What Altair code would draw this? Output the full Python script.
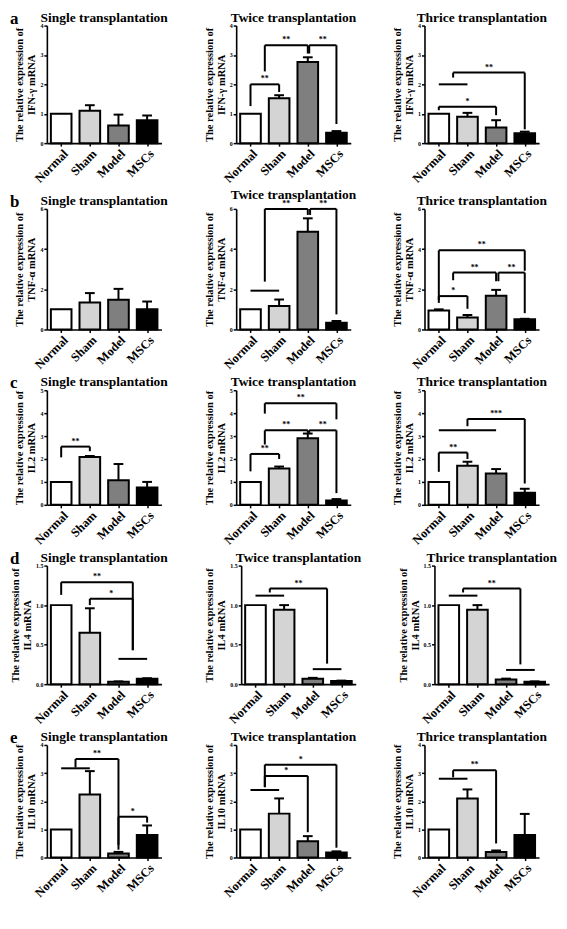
import json
import altair as alt
import pandas as pd

CATS = ["Normal", "Sham", "Model", "MSCs"]
COLORS = ["#ffffff", "#d4d4d4", "#7f7f7f", "#000000"]
TITLES = ["Single transplantation", "Twice transplantation", "Thrice transplantation"]
GENES = ["IFN-γ mRNA", "TNF-α mRNA", "IL2 mRNA", "IL4 mRNA", "IL10 mRNA"]
LETTERS = ["a", "b", "c", "d", "e"]
YMAX = [4, 6, 5, 1.5, 4]
YTICKS = [[0, 1, 2, 3, 4], [0, 2, 4, 6], [0, 1, 2, 3, 4, 5], [0, 0.5, 1.0, 1.5], [0, 1, 2, 3, 4]]
YFMT = ["d", "d", "d", ".1f", "d"]
ROW_H = [118, 121, 115, 119, 113]
PANEL_W = 115

# means and upper error-bar ends, per row (gene) and column (single/twice/thrice)
IFN_MEAN = [[1.0, 1.10, 0.60, 0.78], [1.0, 1.53, 2.76, 0.35], [1.0, 0.90, 0.53, 0.34]]
IFN_TOP = [[1.0, 1.29, 0.97, 0.94], [1.0, 1.63, 2.92, 0.41], [1.0, 1.03, 0.78, 0.39]]
TNF_MEAN = [[1.0, 1.34, 1.48, 1.00], [1.0, 1.17, 4.86, 0.33], [0.94, 0.60, 1.68, 0.51]]
TNF_TOP = [[1.0, 1.81, 2.02, 1.39], [1.0, 1.49, 5.53, 0.42], [1.0, 0.72, 1.97, 0.53]]
IL2_MEAN = [[1.0, 2.09, 1.07, 0.76], [1.0, 1.58, 2.90, 0.19], [1.0, 1.70, 1.37, 0.53]]
IL2_TOP = [[1.0, 2.13, 1.78, 1.00], [1.0, 1.67, 3.11, 0.25], [1.0, 1.88, 1.56, 0.70]]
IL4_MEAN = [[1.0, 0.65, 0.03, 0.07], [1.0, 0.94, 0.07, 0.04], [1.0, 0.94, 0.06, 0.03]]
IL4_TOP = [[1.0, 0.96, 0.035, 0.075], [1.0, 1.00, 0.08, 0.045], [1.0, 1.00, 0.07, 0.035]]
IL10_MEAN = [[1.0, 2.24, 0.14, 0.80], [1.0, 1.56, 0.58, 0.18], [1.0, 2.10, 0.20, 0.80]]
IL10_TOP = [[1.0, 3.07, 0.20, 1.14], [1.0, 2.10, 0.76, 0.22], [1.0, 2.42, 0.25, 1.55]]
MEANS = [IFN_MEAN, TNF_MEAN, IL2_MEAN, IL4_MEAN, IL10_MEAN]
TOPS = [IFN_TOP, TNF_TOP, IL2_TOP, IL4_TOP, IL10_TOP]

# significance brackets: (x_left, x_right, top, left_drop_to, right_drop_to, label)
IFN_BR = [[],
          [(0, 1, 2.0, 1.26, 1.74, "**"), (0.5, 2, 3.33, 2.44, 3.05, "**"), (2.05, 3, 3.33, 3.05, 0.65, "**")],
          [(0, 1, 2.0, 2.0, 2.0, ""), (0.5, 3, 2.4, 2.23, 0.47, "**"), (0, 2, 1.24, 1.12, 0.95, "*")]]
TNF_BR = [[],
          [(0, 1, 1.93, 1.93, 1.93, ""), (0.5, 2, 6.0, 2.38, 5.7, "**"), (2.08, 3, 6.0, 5.7, 0.75, "**")],
          [(0, 1, 1.66, 1.32, 1.03, "*"), (0.5, 2, 2.83, 2.45, 2.4, "**"), (2.08, 3, 2.83, 2.4, 0.81, "**"),
           (0, 3, 3.94, 1.46, 2.92, "**")]]
IL2_BR = [[(0, 1, 2.54, 2.07, 2.34, "**")],
          [(0, 1, 2.22, 1.46, 2.0, "**"), (0.5, 2, 3.25, 2.63, 3.14, "**"), (2.05, 3, 3.25, 3.14, 0.51, "**"),
           (0.5, 3, 4.43, 3.98, 3.73, "**")],
          [(0, 2, 3.25, 3.25, 3.25, ""), (0, 1, 2.28, 1.44, 2.0, "**"), (1, 3, 3.75, 3.43, 0.93, "***")]]
IL4_BR = [[(2, 3, 0.32, 0.32, 0.32, ""), (0, 2.5, 1.29, 1.13, 0.43, "**"), (1, 2.5, 1.08, 1.0, 0.43, "*")],
          [(0, 1, 1.12, 1.12, 1.12, ""), (2, 3, 0.19, 0.19, 0.19, ""), (0.5, 2.5, 1.21, 1.16, 0.26, "**")],
          [(0, 1, 1.12, 1.12, 1.12, ""), (2, 3, 0.18, 0.18, 0.18, ""), (0.5, 2.5, 1.21, 1.16, 0.25, "**")]]
IL10_BR = [[(0, 1, 3.17, 3.17, 3.17, ""), (0.5, 2, 3.5, 3.2, 0.28, "**"), (2, 3, 1.45, 0.45, 1.24, "*")],
           [(0, 1, 2.4, 2.4, 2.4, ""), (0.5, 3, 3.3, 2.5, 0.35, "*"), (0.5, 2, 2.9, 2.5, 0.9, "*")],
           [(0, 1, 2.8, 2.8, 2.8, ""), (0.5, 2, 3.1, 2.85, 0.5, "**")]]
BRACKETS = [IFN_BR, TNF_BR, IL2_BR, IL4_BR, IL10_BR]

FONT = "Liberation Serif"
LABEL_EXPR = json.dumps(CATS) + "[datum.value]"


def panel(ri, ci):
    xs = alt.Scale(domain=[-0.5, 3.5], nice=False, zero=False)
    ys = alt.Scale(domain=[0, YMAX[ri]], nice=False)
    xa = alt.Axis(values=[0, 1, 2, 3], labelExpr=LABEL_EXPR, title=None)
    ya = alt.Axis(values=YTICKS[ri], format=YFMT[ri], title=["The relative expression of", GENES[ri]])

    def X(f):
        return alt.X(f, scale=xs, axis=xa)

    def Y(f):
        return alt.Y(f, scale=ys, axis=ya)

    df = pd.DataFrame({"cat": CATS, "pos": [0, 1, 2, 3],
                       "mean": MEANS[ri][ci], "top": TOPS[ri][ci]})
    base = alt.Chart(df)
    bars = base.transform_calculate(xl="datum.pos-0.36", xr="datum.pos+0.36").mark_bar(
        stroke="black", strokeWidth=2).encode(
        x=X("xl:Q"), x2="xr:Q", y=Y("mean:Q"), y2=alt.datum(0),
        fill=alt.Fill("cat:N", scale=alt.Scale(domain=CATS, range=COLORS), legend=None),
    )
    err = base.transform_filter("datum.top > datum.mean").mark_rule(color="black", strokeWidth=2).encode(
        x=X("pos:Q"), y=Y("mean:Q"), y2="top:Q",
    )
    cap = base.transform_filter("datum.top > datum.mean").transform_calculate(
        cl="datum.pos-0.17", cr="datum.pos+0.17").mark_rule(color="black", strokeWidth=2).encode(
        x=X("cl:Q"), x2="cr:Q", y=Y("top:Q"),
    )
    br = BRACKETS[ri][ci]
    high = any(b[2] >= 0.95 * YMAX[ri] for b in br)
    title = alt.Chart(pd.DataFrame({"t": [TITLES[ci]]})).mark_text(
        font=FONT, fontWeight="bold", fontSize=13.5, align="center", baseline="alphabetic",
        color="black").encode(x=alt.value(PANEL_W / 2), y=alt.value(-10 if high else -4), text="t:N")
    layers = [bars, err, cap, title]
    if br:
        segs = []
        labs = []
        for (x1, x2, top, d1, d2, lab) in br:
            segs.append({"x": x1, "x2": x2, "y": top, "y2": top})
            if d1 != top:
                segs.append({"x": x1, "x2": x1, "y": d1, "y2": top})
            if d2 != top:
                segs.append({"x": x2, "x2": x2, "y": d2, "y2": top})
            if lab:
                labs.append({"xm": (x1 + x2) / 2, "y": top, "lab": lab})
        layers.append(alt.Chart(pd.DataFrame(segs)).mark_rule(color="black", strokeWidth=2).encode(
            x=X("x:Q"), x2="x2:Q", y=Y("y:Q"), y2="y2:Q"))
        if labs:
            layers.append(alt.Chart(pd.DataFrame(labs)).mark_text(
                font=FONT, fontWeight="bold", fontSize=8, baseline="bottom", dy=-1, color="black").encode(
                x=X("xm:Q"), y=Y("y:Q"), text="lab:N"))
    if ci == 0:
        layers.append(alt.Chart(pd.DataFrame({"t": [LETTERS[ri]]})).mark_text(
            font=FONT, fontWeight="bold", fontSize=17, align="left", baseline="alphabetic",
            color="black").encode(x=alt.value(-37), y=alt.value(-2), text="t:N"))
    return alt.layer(*layers).properties(width=PANEL_W, height=ROW_H[ri])


rows = [alt.hconcat(*[panel(r, c) for c in range(3)], spacing=36) for r in range(5)]
chart = alt.vconcat(*rows, spacing=3).properties(
    padding={"left": 2, "top": 0, "right": 2, "bottom": 1}
).configure_view(stroke=None).configure_axis(
    grid=False, domainColor="black", domainWidth=1.6, tickColor="black", tickWidth=1.5, tickSize=3,
    labelFont=FONT, labelFontWeight="bold", labelColor="black",
    titleFont=FONT, titleFontWeight="bold", titleColor="black",
).configure_axisX(labelAngle=-45, labelFontSize=12.5, labelPadding=1, labelOverlap=False).configure_axisY(
    labelFontSize=6, labelPadding=1, titleFontSize=10.5, titlePadding=3, titleLineHeight=12)

chart.save("out.html", embed_options={"renderer": "svg", "actions": False})
